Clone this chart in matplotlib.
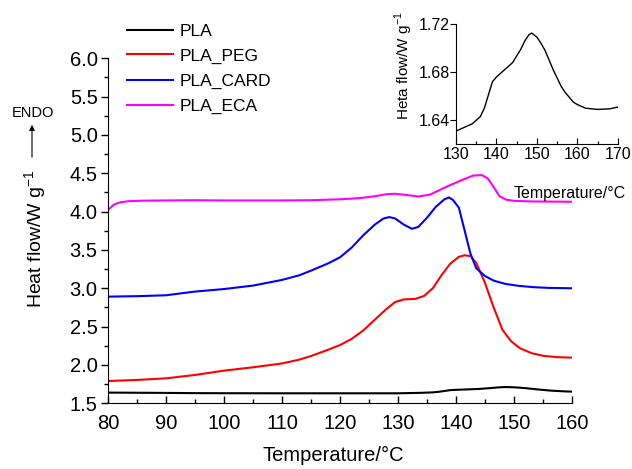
import numpy as np
import matplotlib
matplotlib.use('Agg')
import matplotlib.pyplot as plt
from matplotlib.ticker import MultipleLocator, FormatStrFormatter

plt.rcParams['font.family'] = ['Liberation Sans', 'DejaVu Sans']
plt.rcParams['mathtext.fontset'] = 'custom'
plt.rcParams['mathtext.rm'] = 'Liberation Sans'

# DSC curves (temperature in degC, heat flow in W/g)
pla_T = [80, 85, 90, 95, 100, 110, 120, 130, 132, 134, 136, 137, 138, 139, 140, 142, 144,
         146, 147, 148, 148.7, 150, 151, 152, 153, 154, 155, 156, 157, 158, 159, 160]
pla_y = [1.640, 1.638, 1.636, 1.633, 1.632, 1.631, 1.631, 1.631, 1.634, 1.637, 1.643, 1.650,
         1.661, 1.672, 1.676, 1.682, 1.688, 1.699, 1.706, 1.711, 1.7125, 1.709, 1.704, 1.698,
         1.690, 1.682, 1.675, 1.668, 1.663, 1.659, 1.655, 1.653]

peg_T = [80, 85, 90, 95, 100, 105, 110, 113, 115, 118, 120, 122, 124, 126, 128, 129.5, 131,
         133, 134.5, 136, 137.5, 139, 140.5, 141.5, 142.5, 143.5, 145, 146.5, 148, 149.5,
         151, 153, 155, 157.5, 160]
peg_y = [1.791, 1.805, 1.826, 1.87, 1.926, 1.97, 2.02, 2.07, 2.117, 2.2, 2.26, 2.34, 2.45,
         2.59, 2.73, 2.82, 2.855, 2.862, 2.9, 3.0, 3.17, 3.32, 3.41, 3.43, 3.42, 3.33, 3.07,
         2.75, 2.46, 2.31, 2.22, 2.155, 2.12, 2.102, 2.096]

card_T = [80, 85, 90, 95, 100, 105, 110, 113, 115, 118, 120, 122, 124, 126, 127.5, 128.5,
          129.5, 131, 132.4, 133.5, 135, 136.5, 138, 138.8, 139.5, 140.5, 141.5, 142.5,
          143.5, 145, 146.5, 148.5, 151, 153.5, 156, 160]
card_y = [2.891, 2.897, 2.909, 2.957, 2.99, 3.035, 3.109, 3.17, 3.23, 3.326, 3.404, 3.53,
          3.69, 3.83, 3.91, 3.928, 3.91, 3.83, 3.775, 3.8, 3.92, 4.06, 4.16, 4.184, 4.15,
          4.05, 3.75, 3.45, 3.26, 3.16, 3.1, 3.057, 3.03, 3.014, 3.005, 3.0]

eca_T = [80, 81, 82, 83.5, 86, 90, 95, 100, 105, 110, 115, 120, 123.5, 126, 128, 129.5, 131,
         133.5, 135.5, 138.5, 141, 143, 144.5, 145.5, 146.5, 147.5, 148.7, 150, 153, 160]
eca_y = [4.02, 4.09, 4.12, 4.135, 4.142, 4.145, 4.148, 4.145, 4.145, 4.145, 4.148, 4.16,
         4.176, 4.2, 4.226, 4.232, 4.22, 4.197, 4.22, 4.328, 4.41, 4.47, 4.475, 4.43, 4.32,
         4.2, 4.154, 4.14, 4.132, 4.128]

# inset: PLA alone, zoomed
ins_T = [130, 132, 134, 136, 137, 138, 139, 140, 142, 144, 146, 147, 148, 148.7, 150, 151,
         152, 153, 154, 155, 156, 157, 158, 159, 160, 162, 165, 168, 170]
ins_y = [1.631, 1.634, 1.637, 1.643, 1.650, 1.661, 1.672, 1.676, 1.682, 1.688, 1.699, 1.706,
         1.711, 1.7125, 1.709, 1.704, 1.698, 1.690, 1.682, 1.675, 1.668, 1.663, 1.659, 1.655,
         1.653, 1.650, 1.649, 1.6495, 1.651]

fig = plt.figure(figsize=(6.32, 4.69), dpi=100)
ax = fig.add_axes([0.171, 0.140, 0.734, 0.736])

ax.plot(pla_T, pla_y, color='black', lw=1.5, label='PLA')
ax.plot(peg_T, peg_y, color='#ff0000', lw=1.5, label='PLA_PEG')
ax.plot(card_T, card_y, color='#0000ff', lw=1.5, label='PLA_CARD')
ax.plot(eca_T, eca_y, color='#ff00ff', lw=1.5, label='PLA_ECA')

ax.set_xlim(80, 160)
ax.set_ylim(1.5, 6.0)
ax.xaxis.set_major_locator(MultipleLocator(10))
ax.xaxis.set_minor_locator(MultipleLocator(5))
ax.yaxis.set_major_locator(MultipleLocator(0.5))
ax.yaxis.set_minor_locator(MultipleLocator(0.25))
ax.yaxis.set_major_formatter(FormatStrFormatter('%.1f'))
ax.spines['top'].set_visible(False)
ax.spines['right'].set_visible(False)
ax.tick_params(axis='x', which='major', direction='in', length=5, width=1, labelsize=14.5, pad=7.5)
ax.tick_params(axis='x', which='minor', direction='in', length=3, width=1)
ax.tick_params(axis='y', which='major', direction='out', length=5, width=1, labelsize=14.5, pad=2.5)
ax.tick_params(axis='y', which='minor', direction='out', length=3, width=1)

ax.set_xlabel('Temperature/°C', fontsize=14.5)
ax.xaxis.set_label_coords(0.485, -0.122)
ax.set_ylabel('Heat flow/W g$^{\\mathregular{-1}}$', fontsize=14)
ax.yaxis.set_label_coords(-0.128, 0.476)

fig.legend(loc='upper left', bbox_to_anchor=(0.201, 0.95), frameon=False, fontsize=12.5,
           handlelength=2.64, labelspacing=0.565, handletextpad=0.4, borderaxespad=0,
           borderpad=0)

fig.text(33 / 632, 1 - 113 / 469, 'ENDO', fontsize=10.5, ha='center', va='center')
ax.annotate('', xy=(32 / 632, 1 - 122 / 469), xytext=(32 / 632, 1 - 160 / 469),
            xycoords='figure fraction', textcoords='figure fraction',
            arrowprops=dict(arrowstyle='-|>', lw=0.8, color='black', mutation_scale=8))

# inset
ax2 = fig.add_axes([0.7215, 0.6923, 0.2563, 0.2565])
ax2.plot(ins_T, ins_y, color='black', lw=1.0)
ax2.set_xlim(130, 170)
ax2.set_ylim(1.62, 1.72)
ax2.set_xticks([130, 140, 150, 160, 170])
ax2.xaxis.set_minor_locator(MultipleLocator(5))
ax2.set_yticks([1.64, 1.68, 1.72])
ax2.yaxis.set_major_formatter(FormatStrFormatter('%.2f'))
ax2.spines['top'].set_visible(False)
ax2.spines['right'].set_visible(False)
ax2.tick_params(axis='x', which='major', direction='in', length=4, width=0.8, labelsize=11.5, pad=2)
ax2.tick_params(axis='x', which='minor', direction='in', length=2, width=0.8)
ax2.tick_params(axis='y', which='major', direction='out', length=4, width=0.8, labelsize=11.5, pad=0.5)
ax2.set_xlabel('Temperature/°C', fontsize=11.5)
ax2.xaxis.set_label_coords(0.70, -0.345)
ax2.set_ylabel('Heta flow/W g$^{\\mathregular{-1}}$', fontsize=11)
ax2.yaxis.set_label_coords(-0.25, 0.65)

fig.savefig('out.png', dpi=100)
